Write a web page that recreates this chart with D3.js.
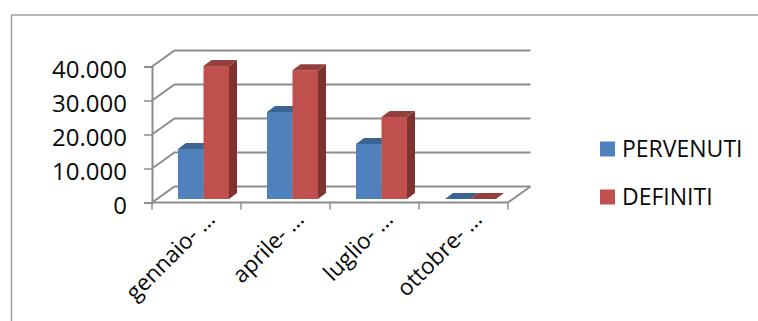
<!DOCTYPE html>
<html lang="it">
<head>
<meta charset="utf-8">
<script src="https://cdn.jsdelivr.net/npm/d3@7"></script>
<style>
html,body{margin:0;padding:0;background:#fff;overflow:hidden}
svg{display:block}
text{font-family:"Open Sans",sans-serif;fill:#0a0a0a}
</style>
</head>
<body>
<svg id="chart" width="758" height="321"></svg>
<script>
// Quarterly counts, one value per series
const categories = ["gennaio- …", "aprile- …", "luglio- …", "ottobre- …"];
const seriesNames = ["PERVENUTI", "DEFINITI"];
const pervenuti = [14700, 25600, 16200, 0];
const definiti = [39100, 37900, 24100, 0];
const yTicks = [0, 10000, 20000, 30000, 40000];

const colors = {
  PERVENUTI: {front: "#4f81bd", top: "#3c6491", side: "#2f5178"},
  DEFINITI: {front: "#c0504d", top: "#93403d", side: "#7f3331"}
};
const gridColor = "#8c8c8c";

const svg = d3.select("#chart");
const fmt = d3.formatLocale({decimal: ",", thousands: ".", grouping: [3], currency: ["€", ""]}).format(",d");

// Oblique projection: the front plane is offset from the back wall
const wall = {dx: 22.5, dy: -16};
const barDepth = {dx: 8, dy: -6};
const barLift = 3.5;

const x = d3.scaleBand().domain(categories).range([152, 508]);
const y = d3.scaleLinear().domain([0, 40000]).range([202.5, 66.5]);
const groupPad = 26;
const barWidth = 25.5;

// Outer frame, open to the right and below
svg.append("path")
  .attr("d", d3.line()([[11.5, 321], [11.5, 15], [758, 15]]))
  .attr("fill", "none").attr("stroke", "#a0a0a0").attr("stroke-width", 1.5);

// Wall gridlines with their floor-side diagonals
const grid = svg.append("g").attr("fill", "none").attr("stroke", gridColor);
yTicks.forEach(t => {
  grid.append("path")
    .attr("d", d3.line()([
      [x.range()[0], y(t)],
      [x.range()[0] + wall.dx, y(t) + wall.dy],
      [x.range()[1] + wall.dx, y(t) + wall.dy]
    ]))
    .attr("stroke-width", 2);
});

// Floor front edge and right side edge
grid.append("path")
  .attr("d", d3.line()([
    [x.range()[0], y(0)],
    [x.range()[1], y(0)],
    [x.range()[1] + wall.dx, y(0) + wall.dy]
  ]))
  .attr("stroke-width", 2);

// Value axis with its labels
const yAxis = d3.axisLeft(y).tickValues(yTicks).tickFormat(fmt).tickSize(8).tickPadding(17);
const yG = svg.append("g").attr("transform", "translate(152,0)").call(yAxis);
yG.selectAll("path.domain").attr("stroke", gridColor).attr("stroke-width", 2);
yG.selectAll("line").attr("stroke", gridColor).attr("stroke-width", 1.5);
yG.selectAll("text").attr("font-size", 24).attr("dy", "0.44em");

// Category ticks below the floor edge
const tickXs = categories.map(c => x(c)).concat(x.range()[1]);
svg.append("g").selectAll("line").data(tickXs).join("line")
  .attr("x1", d => d).attr("x2", d => d)
  .attr("y1", y(0)).attr("y2", y(0) + 7)
  .attr("stroke", gridColor).attr("stroke-width", 1.5);

// Bars: right face, top face, front face
function drawBar(g, cx, w, value, c) {
  const base = y(0) - barLift;
  const topY = base - (y(0) - y(value));
  const d = barDepth;
  if (value > 0) {
    g.append("path").attr("fill", c.side)
      .attr("d", d3.line()([[cx + w, topY], [cx + w + d.dx, topY + d.dy], [cx + w + d.dx, base + d.dy], [cx + w, base]]) + "Z");
  }
  g.append("path").attr("fill", c.top)
    .attr("d", d3.line()([[cx, topY], [cx + d.dx, topY + d.dy], [cx + w + d.dx, topY + d.dy], [cx + w, topY]]) + "Z");
  if (value > 0) {
    g.append("rect").attr("fill", c.front)
      .attr("x", cx).attr("y", topY).attr("width", w).attr("height", base - topY);
  }
}

const barsG = svg.append("g");
categories.forEach((c, i) => {
  const left = x(c) + groupPad;
  drawBar(barsG, left, barWidth, pervenuti[i], colors.PERVENUTI);
  drawBar(barsG, left + barWidth, barWidth, definiti[i], colors.DEFINITI);
});

// Category labels, slanted and right-anchored under each group
svg.append("g").selectAll("text").data(categories).join("text")
  .attr("text-anchor", "end")
  .attr("font-size", 22.5)
  .attr("transform", c => `translate(${x(c) + x.bandwidth() / 2 + 20},${y(0) + 18}) rotate(-45)`)
  .text(c => c);

// Legend
const legendY = d3.scalePoint().domain(seriesNames).range([149, 197]);
const legend = svg.append("g").selectAll("g").data(seriesNames).join("g")
  .attr("transform", n => `translate(600,${legendY(n)})`);
legend.append("rect").attr("y", -7.5).attr("width", 15).attr("height", 15).attr("fill", n => colors[n].front);
legend.append("text").attr("x", 22).attr("dy", "0.36em").attr("font-size", 23).text(n => n);
</script>
</body>
</html>
